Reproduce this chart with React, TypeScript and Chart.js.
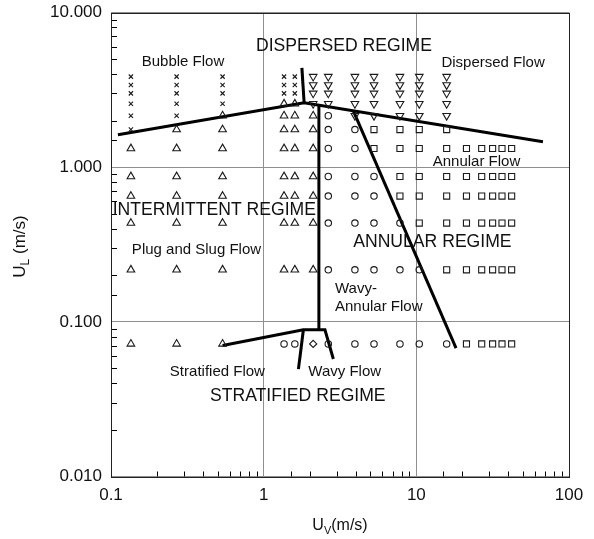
import React, { useEffect, useRef } from "react";
import { Chart, registerables } from "chart.js";

Chart.register(...registerables);

const FONT = '"Liberation Sans", Arial, Helvetica, sans-serif';
const INK = "#111";

// Tick labels for each decade (exponent -> text)
const xTickLabels: Record<string, string> = { "-1": "0.1", "0": "1", "1": "10", "2": "100" };
const yTickLabels: Record<string, string> = { "-2": "0.010", "-1": "0.100", "0": "1.000", "1": "10.000" };

// Observations: [U_V (m/s), list of U_L (m/s) measured at that U_V]
const bubbleFlow: [number, number[]][] = [
  [0.135, [3.85, 3.4, 3.0, 2.57, 2.15, 1.75]],
  [0.269, [3.85, 3.4, 3.0, 2.57, 2.15]],
  [0.538, [3.85, 3.4, 3.0, 2.57]],
  [1.36, [3.85, 3.4, 3.0]],
  [1.6, [3.85, 3.4, 3.0]],
];

const slugFlow: [number, number[]][] = [
  [0.135, [1.32, 0.87, 0.65, 0.435, 0.217, 0.072]],
  [0.269, [1.75, 1.32, 0.87, 0.65, 0.435, 0.217, 0.072]],
  [0.538, [2.15, 1.75, 1.32, 0.87, 0.65, 0.435, 0.217, 0.072]],
  [1.36, [2.57, 2.15, 1.75, 1.32, 0.87, 0.65, 0.435, 0.217]],
  [1.6, [2.57, 2.15, 1.75, 1.32, 0.87, 0.65, 0.435, 0.217]],
  [2.11, [2.15, 1.75, 1.32, 0.87, 0.65, 0.435, 0.217]],
];

const dispersedFlow: [number, number[]][] = [
  [2.11, [3.85, 3.4, 3.0, 2.57]],
  [2.65, [3.85, 3.4, 3.0, 2.57]],
  [3.96, [3.85, 3.4, 3.0, 2.57, 2.15]],
  [5.28, [3.85, 3.4, 3.0, 2.57, 2.15]],
  [7.81, [3.85, 3.4, 3.0, 2.57, 2.15]],
  [10.45, [3.85, 3.4, 3.0, 2.57, 2.15]],
  [15.8, [3.85, 3.4, 3.0, 2.57, 2.15]],
];

const wavyAnnularFlow: [number, number[]][] = [
  [1.36, [0.072]],
  [1.6, [0.072]],
  [2.65, [2.15, 1.75, 1.32, 0.87, 0.65, 0.435, 0.217, 0.072]],
  [3.96, [1.75, 1.32, 0.87, 0.65, 0.435, 0.217, 0.072]],
  [5.28, [0.87, 0.65, 0.435, 0.217, 0.072]],
  [7.81, [0.435, 0.217, 0.072]],
  [10.45, [0.217, 0.072]],
  [15.8, [0.072]],
];

const annularFlow: [number, number[]][] = [
  [5.28, [1.75, 1.32]],
  [7.81, [1.75, 1.32, 0.87, 0.65]],
  [10.45, [1.75, 1.32, 0.87, 0.65, 0.435]],
  [15.8, [1.75, 1.32, 0.87, 0.65, 0.435, 0.217]],
  [21.3, [1.32, 0.87, 0.65, 0.435, 0.217, 0.072]],
  [26.8, [1.32, 0.87, 0.65, 0.435, 0.217, 0.072]],
  [31.6, [1.32, 0.87, 0.65, 0.435, 0.217, 0.072]],
  [36.4, [1.32, 0.87, 0.65, 0.435, 0.217, 0.072]],
  [42.1, [1.32, 0.87, 0.65, 0.435, 0.217, 0.072]],
];

const wavyFlow: [number, number[]][] = [[2.11, [0.072]]];

// Regime transition boundaries: [U_V, U_L] vertices
const bubbleBoundary: [number, number][] = [[0.111, 1.62], [1.84, 2.61], [67.5, 1.46]];
const dispersedBoundary: [number, number][] = [[1.78, 4.39], [1.84, 2.61]];
const intermittentBoundary: [number, number][] = [[2.3, 2.52], [2.3, 0.0889]];
const stratifiedBoundary: [number, number][] = [[0.538, 0.0703], [1.82, 0.0889], [2.52, 0.0889], [2.86, 0.0575]];
const wavyBoundary: [number, number][] = [[1.82, 0.0889], [1.69, 0.0495]];
const annularBoundary: [number, number][] = [[3.86, 2.32], [18.2, 0.0677]];

// Region captions, anchored at their left end / baseline in data units
const captions: { text: string; uv: number; ul: number; size: number }[] = [
  { text: "DISPERSED REGIME", uv: 0.891, ul: 5.6, size: 17.6 },
  { text: "Bubble Flow", uv: 0.159, ul: 4.48, size: 15 },
  { text: "Dispersed Flow", uv: 14.6, ul: 4.44, size: 15 },
  { text: "Annular Flow", uv: 12.8, ul: 1.02, size: 15 },
  { text: "INTERMITTENT REGIME", uv: 0.1026, ul: 0.492, size: 17.6 },
  { text: "Plug and Slug Flow", uv: 0.137, ul: 0.274, size: 15 },
  { text: "ANNULAR REGIME", uv: 3.86, ul: 0.304, size: 17.6 },
  { text: "Wavy-", uv: 2.93, ul: 0.1535, size: 15 },
  { text: "Annular Flow", uv: 2.93, ul: 0.1167, size: 15 },
  { text: "Stratified Flow", uv: 0.243, ul: 0.0444, size: 15 },
  { text: "Wavy Flow", uv: 1.96, ul: 0.0444, size: 15 },
  { text: "STRATIFIED REGIME", uv: 0.445, ul: 0.0306, size: 17.6 },
];

const expand = (groups: [number, number[]][]) =>
  groups.flatMap(([uv, uls]) => uls.map((ul) => ({ x: uv, y: ul })));

const toPoints = (pts: [number, number][]) => pts.map(([x, y]) => ({ x, y }));

const isMajor = (v: number) => {
  const l = Math.log10(v);
  return Math.abs(l - Math.round(l)) < 1e-6;
};

const markerSet = (data: { x: number; y: number }[], pointStyle: string, radius: number, rotation = 0) => ({
  data,
  pointStyle,
  pointRadius: radius,
  pointRotation: rotation,
  pointBorderWidth: 1.1,
  pointBorderColor: "#1a1a1a",
  pointBackgroundColor: "rgba(0,0,0,0)",
  showLine: false,
});

const lineSet = (pts: [number, number][]) => ({
  data: toPoints(pts),
  showLine: true,
  pointRadius: 0,
  borderWidth: 3,
  borderColor: "#000",
  fill: false,
  tension: 0,
  borderCapStyle: "butt",
  borderJoinStyle: "miter",
});

function drawSubscripted(
  ctx: CanvasRenderingContext2D,
  main: string,
  sub: string,
  rest: string,
  cx: number,
  baseline: number,
  size: number
) {
  const big = `${size}px ${FONT}`;
  const small = `${Math.round(size * 0.7)}px ${FONT}`;
  ctx.font = big;
  const w1 = ctx.measureText(main).width;
  const w3 = ctx.measureText(rest).width;
  ctx.font = small;
  const w2 = ctx.measureText(sub).width;
  let x0 = cx - (w1 + w2 + w3) / 2;
  ctx.textAlign = "left";
  ctx.textBaseline = "alphabetic";
  ctx.font = big;
  ctx.fillText(main, x0, baseline);
  x0 += w1;
  ctx.font = small;
  ctx.fillText(sub, x0, baseline + 4);
  x0 += w2;
  ctx.font = big;
  ctx.fillText(rest, x0, baseline);
}

const decorations = {
  id: "decorations",
  beforeDatasetsDraw(chart: any) {
    const { ctx, chartArea: a, scales } = chart;
    const xs = scales.x;
    const ys = scales.y;
    ctx.save();
    ctx.strokeStyle = "#000";
    ctx.lineWidth = 1;
    ctx.beginPath();
    for (const t of ys.ticks) {
      if (isMajor(t.value)) continue;
      const py = Math.round(ys.getPixelForValue(t.value)) + 0.5;
      ctx.moveTo(a.left, py);
      ctx.lineTo(a.left + 6, py);
    }
    for (const t of xs.ticks) {
      if (isMajor(t.value)) continue;
      const px = Math.round(xs.getPixelForValue(t.value)) + 0.5;
      ctx.moveTo(px, a.bottom);
      ctx.lineTo(px, a.bottom - 5);
    }
    ctx.stroke();
    ctx.strokeStyle = "#222";
    ctx.strokeRect(
      Math.round(a.left) + 0.5,
      Math.round(a.top) + 0.5,
      Math.round(a.right) - Math.round(a.left),
      Math.round(a.bottom) - Math.round(a.top)
    );
    ctx.restore();
  },
  afterDatasetsDraw(chart: any) {
    const { ctx, chartArea: a, scales } = chart;
    const xs = scales.x;
    const ys = scales.y;
    ctx.save();
    ctx.fillStyle = INK;
    ctx.textAlign = "left";
    ctx.textBaseline = "alphabetic";
    for (const c of captions) {
      ctx.font = `${c.size}px ${FONT}`;
      ctx.fillText(c.text, xs.getPixelForValue(c.uv), ys.getPixelForValue(c.ul));
    }
    // Axis titles with subscripts
    drawSubscripted(ctx, "U", "V", "(m/s)", (a.left + a.right) / 2, chart.height - 9, 16);
    ctx.save();
    ctx.translate(25, (a.top + a.bottom) / 2 + 2);
    ctx.rotate(-Math.PI / 2);
    drawSubscripted(ctx, "U", "L", " (m/s)", 0, 0, 17);
    ctx.restore();
    ctx.restore();
  },
};

export default function App() {
  const canvasRef = useRef<HTMLCanvasElement | null>(null);

  useEffect(() => {
    const canvas = canvasRef.current;
    if (!canvas) return;
    const gridColor = (c: any) => (c.tick && isMajor(c.tick.value) ? "#8f8f8f" : "rgba(0,0,0,0)");
    const chart = new Chart(canvas, {
      type: "scatter",
      data: {
        datasets: [
          markerSet(expand(bubbleFlow), "crossRot", 3),
          markerSet(expand(slugFlow), "triangle", 4.4),
          markerSet(expand(dispersedFlow), "triangle", 4.4, 180),
          markerSet(expand(wavyAnnularFlow), "circle", 3.2),
          markerSet(expand(annularFlow), "rect", 4.3),
          markerSet(expand(wavyFlow), "rectRot", 3.6),
          lineSet(bubbleBoundary),
          lineSet(dispersedBoundary),
          lineSet(intermittentBoundary),
          lineSet(stratifiedBoundary),
          lineSet(wavyBoundary),
          lineSet(annularBoundary),
        ] as any,
      },
      options: {
        animation: false,
        responsive: false,
        events: [],
        layout: { padding: { top: 12.5, right: 25, left: 0, bottom: 0 } },
        plugins: { legend: { display: false }, tooltip: { enabled: false } },
        scales: {
          x: {
            type: "logarithmic",
            position: "bottom",
            min: 0.1,
            max: 100,
            afterFit: (s: any) => {
              s.height = 62.5;
              s.paddingLeft = 0;
              s.paddingRight = 0;
            },
            border: { display: false },
            grid: { color: gridColor, lineWidth: 1, drawTicks: false },
            ticks: {
              autoSkip: false,
              maxRotation: 0,
              padding: 9,
              color: INK,
              font: { family: FONT, size: 17 },
              callback: (v: any) => {
                const n = Number(v);
                return isMajor(n) ? xTickLabels[String(Math.round(Math.log10(n)))] : "";
              },
            },
          },
          y: {
            type: "logarithmic",
            position: "left",
            min: 0.01,
            max: 10,
            afterFit: (s: any) => {
              s.width = 111;
              s.paddingTop = 0;
              s.paddingBottom = 0;
            },
            border: { display: false },
            grid: { color: gridColor, lineWidth: 1, drawTicks: false },
            ticks: {
              autoSkip: false,
              padding: 9,
              color: INK,
              font: { family: FONT, size: 17 },
              callback: (v: any) => {
                const n = Number(v);
                return isMajor(n) ? yTickLabels[String(Math.round(Math.log10(n)))] : "";
              },
            },
          },
        },
      } as any,
      plugins: [decorations],
    });
    return () => chart.destroy();
  }, []);

  return (
    <div style={{ position: "fixed", left: 0, top: 0, width: 594, height: 539, background: "#fff" }}>
      <canvas ref={canvasRef} width={594} height={539} style={{ display: "block" }} />
    </div>
  );
}
